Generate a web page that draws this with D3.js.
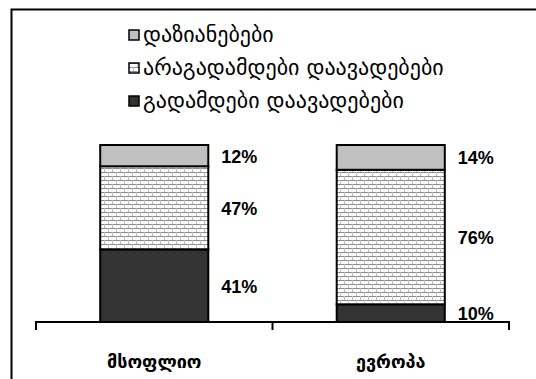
<!DOCTYPE html>
<html lang="ka">
<head>
<meta charset="UTF-8">
<script src="https://d3js.org/d3.v7.min.js"></script>
<style>
    body { margin: 0; padding: 0; background: #ffffff; }
    svg { display: block; }
    .geo { font-family: 'DejaVu Sans', sans-serif; }
    .pct { font-family: 'Liberation Sans', Arial, sans-serif; font-weight: bold; font-size: 18px; }
</style>
</head>
<body>
<svg width="536" height="379"></svg>
<script>
// data
const categories = ["მსოფლიო", "ევროპა"];
const seriesNames = ["გადამდები დაავადებები", "არაგადამდები დაავადებები", "დაზიანებები"];
const communicable = [41, 10];
const nonCommunicable = [47, 76];
const injuries = [12, 14];

const svg = d3.select("svg");
const width = +svg.attr("width");
const height = +svg.attr("height");

// frame (runs past the right and bottom edges)
svg.append("rect")
    .attr("x", 11.5).attr("y", 9.5)
    .attr("width", width + 10).attr("height", height + 10)
    .attr("fill", "none").attr("stroke", "#000").attr("stroke-width", 2);

// brick pattern
const defs = svg.append("defs");
const pat = defs.append("pattern")
    .attr("id", "brick")
    .attr("patternUnits", "userSpaceOnUse")
    .attr("width", 8).attr("height", 8);
pat.append("rect").attr("width", 8).attr("height", 8).attr("fill", "#ffffff");
pat.append("path").attr("d", "M0,0.5H8M0,4.5H8").attr("stroke", "#8c8c8c").attr("stroke-width", 1);
pat.append("path").attr("d", "M0.5,0V4M4.5,4V8").attr("stroke", "#bdbdbd").attr("stroke-width", 1);

const fills = ["#333333", "url(#brick)", "#c0c0c0"];

const x = d3.scaleBand()
    .domain(categories)
    .range([36, 509])
    .paddingInner(0)
    .paddingOuter(0);

const y = d3.scaleLinear()
    .domain([0, 100])
    .range([322, 145]);

const table = categories.map((c, i) => ({
    cat: c,
    [seriesNames[0]]: communicable[i],
    [seriesNames[1]]: nonCommunicable[i],
    [seriesNames[2]]: injuries[i]
}));

const stacked = d3.stack().keys(seriesNames)(table);

const barW = x.bandwidth() * 0.457;

const layers = svg.selectAll("g.layer")
    .data(stacked)
    .enter()
    .append("g")
    .attr("class", "layer")
    .attr("fill", (d, i) => fills[i]);

layers.selectAll("rect")
    .data(d => d)
    .enter()
    .append("rect")
    .attr("x", d => x(d.data.cat) + (x.bandwidth() - barW) / 2)
    .attr("y", d => y(d[1]))
    .attr("width", barW)
    .attr("height", d => y(d[0]) - y(d[1]))
    .attr("stroke", "#000")
    .attr("stroke-width", 2);

// value labels
layers.selectAll("text")
    .data(d => d)
    .enter()
    .append("text")
    .attr("class", "pct")
    .attr("x", d => x(d.data.cat) + (x.bandwidth() + barW) / 2 + 13)
    .attr("y", d => (y(d[0]) + y(d[1])) / 2 + 7)
    .attr("fill", "#000")
    .text(d => (d[1] - d[0]) + "%");

// axis
const axis = d3.axisBottom(x).tickSize(8).tickFormat("");
const axisG = svg.append("g")
    .attr("transform", "translate(0," + y(0) + ")")
    .call(axis);
axisG.select(".domain")
    .attr("d", "M36,8V0H509V8")
    .attr("stroke", "#000").attr("stroke-width", 2);
axisG.selectAll(".tick").remove();
axisG.selectAll(".edge")
    .data([x.range()[0] + x.bandwidth()])
    .enter()
    .append("line")
    .attr("x1", d => d).attr("x2", d => d)
    .attr("y1", 0).attr("y2", 8)
    .attr("stroke", "#000").attr("stroke-width", 2);

// category labels
svg.selectAll("text.cat")
    .data(categories)
    .enter()
    .append("text")
    .attr("class", "cat geo")
    .attr("x", d => x(d) + x.bandwidth() / 2)
    .attr("y", 368)
    .attr("text-anchor", "middle")
    .attr("font-size", 18)
    .attr("font-weight", "bold")
    .text(d => d);

// legend (top-down: injuries, non-communicable, communicable)
const legendOrder = [2, 1, 0];
const legend = svg.selectAll("g.legend")
    .data(legendOrder)
    .enter()
    .append("g")
    .attr("class", "legend")
    .attr("transform", (d, i) => "translate(129," + (30 + i * 33) + ")");

legend.append("rect")
    .attr("width", 10).attr("height", 10)
    .attr("fill", d => fills[d])
    .attr("stroke", "#000").attr("stroke-width", 1.5);

legend.append("text")
    .attr("class", "geo")
    .attr("x", 14)
    .attr("y", 12)
    .attr("font-size", 22)
    .text(d => seriesNames[d]);
</script>
</body>
</html>
